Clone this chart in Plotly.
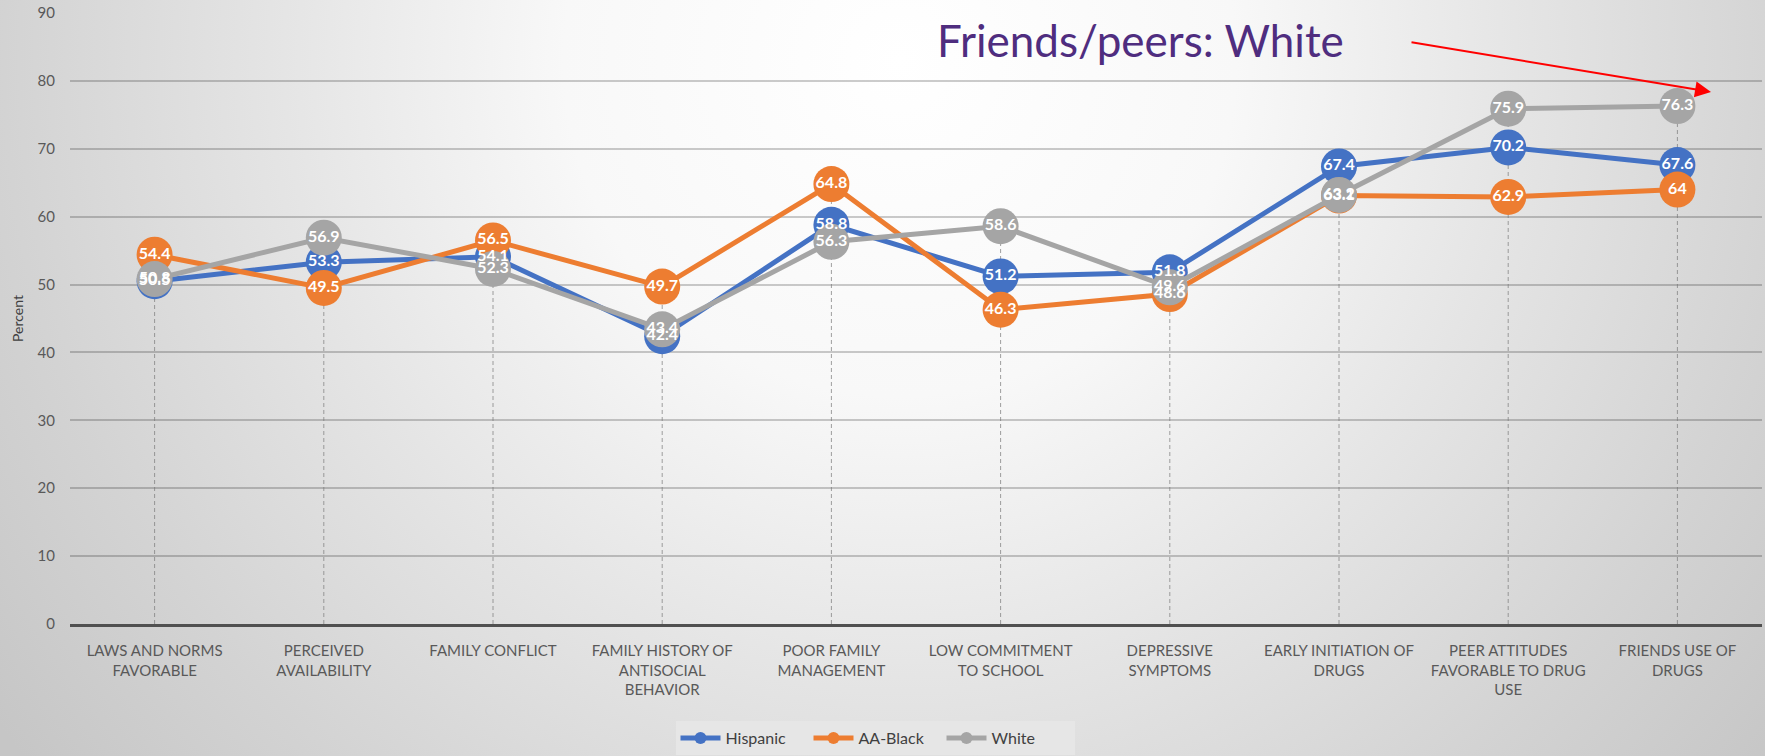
import base64
import plotly.graph_objects as go

categories = [
    "LAWS AND NORMS<br>FAVORABLE",
    "PERCEIVED<br>AVAILABILITY",
    "FAMILY CONFLICT",
    "FAMILY HISTORY OF<br>ANTISOCIAL<br>BEHAVIOR",
    "POOR FAMILY<br>MANAGEMENT",
    "LOW COMMITMENT<br>TO SCHOOL",
    "DEPRESSIVE<br>SYMPTOMS",
    "EARLY INITIATION OF<br>DRUGS",
    "PEER ATTITUDES<br>FAVORABLE TO DRUG<br>USE",
    "FRIENDS USE OF<br>DRUGS",
]
hispanic = [50.5, 53.3, 54.1, 42.4, 58.8, 51.2, 51.8, 67.4, 70.2, 67.6]
aa_black = [54.4, 49.5, 56.5, 49.7, 64.8, 46.3, 48.6, 63.1, 62.9, 64]
white = [50.8, 56.9, 52.3, 43.4, 56.3, 58.6, 49.6, 63.2, 75.9, 76.3]
y_ticks = [0, 10, 20, 30, 40, 50, 60, 70, 80, 90]

series = [("Hispanic", hispanic, "#4472C4"),
          ("AA-Black", aa_black, "#ED7D31"),
          ("White", white, "#A5A5A5")]

W, H = 1765, 756
ML, MR, MT, MB = 70, 3, 13, 132
PW, PH = W - ML - MR, H - MT - MB

fig = go.Figure()

# drop lines from axis to highest point
dx, dy = [], []
for i, c in enumerate(categories):
    top = max(hispanic[i], aa_black[i], white[i])
    dx += [c, c, None]
    dy += [0, top, None]
fig.add_trace(go.Scatter(x=dx, y=dy, mode="lines", showlegend=False, hoverinfo="skip",
                         line=dict(color="rgba(120,120,120,0.7)", width=1, dash="4px,3px")))

for name, vals, col in series:
    fig.add_trace(go.Scatter(x=categories, y=vals, name=name, mode="lines+markers",
                             line=dict(color=col, width=5),
                             marker=dict(color=col, size=36, line=dict(width=0))))

for name, vals, col in series:
    fig.add_trace(go.Scatter(x=categories, y=vals, mode="text", showlegend=False,
                             text=[f"{v:g}" for v in vals], textposition="middle center",
                             textfont=dict(color="white", size=16, family="Lato", weight="bold"),
                             hoverinfo="skip"))

svg = (
    f'<svg xmlns="http://www.w3.org/2000/svg" width="{W}" height="{H}" viewBox="0 0 {W} {H}" preserveAspectRatio="none">'
    '<defs><radialGradient id="g" gradientUnits="userSpaceOnUse" cx="900" cy="60" r="1120">'
    '<stop offset="0" stop-color="#ffffff"/>'
    '<stop offset="0.3" stop-color="#f8f8f8"/>'
    '<stop offset="0.55" stop-color="#e5e5e5"/>'
    '<stop offset="0.8" stop-color="#d3d3d3"/>'
    '<stop offset="1" stop-color="#c6c6c6"/>'
    '</radialGradient></defs>'
    f'<rect x="0" y="0" width="{W}" height="{H}" fill="url(#g)"/></svg>'
)
src = "data:image/svg+xml;base64," + base64.b64encode(svg.encode()).decode()

fig.update_layout(
    width=W, height=H,
    margin=dict(l=ML, r=MR, t=MT, b=MB, autoexpand=False),
    paper_bgcolor="#d6d6d6",
    plot_bgcolor="rgba(0,0,0,0)",
    font=dict(family="Lato", color="#595959"),
    images=[dict(source=src, xref="paper", yref="paper",
                 x=-ML / PW, y=1 + MT / PH, sizex=W / PW, sizey=H / PH,
                 xanchor="left", yanchor="top", sizing="stretch", layer="below")],
    legend=dict(orientation="h", x=(875 - ML) / PW, xanchor="center",
                y=-(H - 1 - (H - MB)) / PH, yanchor="bottom",
                bgcolor="#e6e6e6", font=dict(size=16, color="#404040"),
                itemwidth=40, itemsizing="constant", entrywidth=78,
                entrywidthmode="pixels", tracegroupgap=0),
    showlegend=True,
    annotations=[
        dict(text="Friends/peers: White", xref="paper", yref="paper",
             x=(935 - ML) / PW, y=(H - MB - 40) / PH, xanchor="left", yanchor="middle",
             showarrow=False, font=dict(size=44, color="#4f2d7f", family="Lato")),
        dict(text="", xref="paper", yref="paper",
             x=(1711 - ML) / PW, y=(H - MB - 92) / PH,
             ax=1410 - 1711, ay=42 - 92, axref="pixel", ayref="pixel",
             showarrow=True, arrowhead=2, arrowsize=1.6, arrowwidth=2, arrowcolor="#ff0000"),
    ],
)

fig.update_xaxes(type="category", range=[-0.5, len(categories) - 0.5],
                 showgrid=False, showline=True, linecolor="#505050", linewidth=3,
                 ticks="", tickangle=0, tickfont=dict(size=15, color="#595959"),
                 ticklabelstandoff=11, fixedrange=True)
fig.update_yaxes(range=[0, 90], tickvals=y_ticks, showgrid=True,
                 gridcolor="rgba(0,0,0,0.2)", gridwidth=2, zeroline=False,
                 tickfont=dict(size=15, color="#595959"), ticklabelstandoff=14,
                 title=dict(text="Percent", font=dict(size=14, color="#404040"), standoff=10),
                 fixedrange=True)

fig.write_html("out.html", config={"displayModeBar": False},
               post_script="document.body.style.margin='0';document.body.style.overflow='hidden';")
